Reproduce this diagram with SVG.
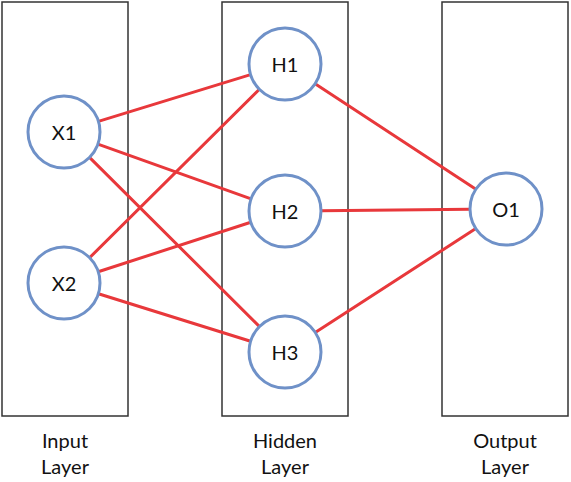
<svg xmlns="http://www.w3.org/2000/svg" width="571" height="482" viewBox="0 0 571 482">
<style>
.box{fill:#fff;stroke:#333;stroke-width:1.5}
.edge{stroke:#e8383b;stroke-width:3;stroke-linecap:round}
.node{fill:#fff;stroke:#6f91c8;stroke-width:3}
.nl{font-family:Lato,"Open Sans",sans-serif;font-size:20px;fill:#111;text-anchor:middle;dominant-baseline:central}
.ll{font-family:Lato,"Open Sans",sans-serif;font-size:20px;fill:#111;text-anchor:middle}
</style>
<g id="layers">
<rect class="box" x="2" y="2" width="126" height="414"/>
<rect class="box" x="222" y="2" width="126" height="414"/>
<rect class="box" x="442" y="2" width="126" height="414"/>
</g>
<g id="connectors">
<line class="edge" x1="98.4" y1="121.4" x2="250.6" y2="74.6"/>
<line class="edge" x1="97.9" y1="144.1" x2="251.1" y2="198.9"/>
<line class="edge" x1="89.5" y1="157.4" x2="259.5" y2="326.6"/>
<line class="edge" x1="89.6" y1="257.7" x2="259.4" y2="89.3"/>
<line class="edge" x1="98.2" y1="271.8" x2="250.8" y2="222.2"/>
<line class="edge" x1="98.4" y1="293.7" x2="250.6" y2="341.3"/>
<line class="edge" x1="315.1" y1="83.8" x2="475.9" y2="189.2"/>
<line class="edge" x1="321" y1="210.7" x2="470" y2="209.3"/>
<line class="edge" x1="315.2" y1="332.4" x2="475.8" y2="228.6"/>
</g>
<g id="X1"><circle class="node" cx="64" cy="132" r="36"/><text class="nl" x="64" y="132">X1</text></g>
<g id="X2"><circle class="node" cx="64" cy="283" r="36"/><text class="nl" x="64" y="283">X2</text></g>
<g id="H1"><circle class="node" cx="285" cy="64" r="36"/><text class="nl" x="285" y="64">H1</text></g>
<g id="H2"><circle class="node" cx="285" cy="211" r="36"/><text class="nl" x="285" y="211">H2</text></g>
<g id="H3"><circle class="node" cx="285" cy="352" r="36"/><text class="nl" x="285" y="352">H3</text></g>
<g id="O1"><circle class="node" cx="506" cy="209" r="36"/><text class="nl" x="506" y="209">O1</text></g>
<g id="labels">
<text class="ll" x="65" y="448">Input</text>
<text class="ll" x="65" y="474">Layer</text>
<text class="ll" x="285" y="448">Hidden</text>
<text class="ll" x="285" y="474">Layer</text>
<text class="ll" x="505" y="448">Output</text>
<text class="ll" x="505" y="474">Layer</text>
</g>
</svg>
